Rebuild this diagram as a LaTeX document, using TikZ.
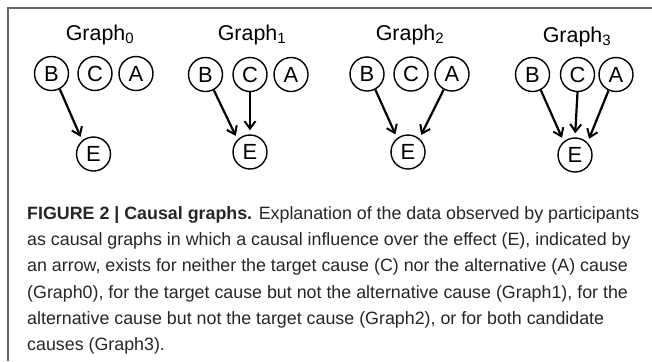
\documentclass[tikz,border=0pt]{standalone}
\usepackage{fontspec}
\setmainfont{Liberation Sans}
\usepackage{tikz}
\usetikzlibrary{arrows.meta}
\tikzstyle{var} = [circle, draw, line width=1.4bp, minimum size=34bp, inner sep=0pt, font=\fontsize{22}{22}\selectfont]
\tikzstyle{cause} = [-{Straight Barb[length=7.5bp,width=11bp,line width=2bp]}, line width=2.2bp, shorten >=4bp]
\tikzstyle{title} = [font=\fontsize{21.5}{21.5}\selectfont]
\tikzstyle{caption} = [anchor=base west, inner sep=0pt, font=\fontsize{17.9}{17.9}\selectfont, text=black!85]

\begin{document}
\begin{tikzpicture}[x=1bp, y=-1bp]
	\useasboundingbox (0,0) rectangle (652,361);
	\draw[line width=1.5bp, black!60] (652,8) -- (8,8) -- (8,361);
	
	\node[title] (t0) at (100,35) {Graph\textsubscript{0}};
	\node[var] (b0) at (51.5,73.5) {B};
	\node[var] (c0) at (95,73.5) {C};
	\node[var] (a0) at (136,73.5) {A};
	\node[var] (e0) at (93.5,154) {E};
	
	\node[title] (t1) at (252,35) {Graph\textsubscript{1}};
	\node[var] (b1) at (205.5,74.5) {B};
	\node[var] (c1) at (250,74.5) {C};
	\node[var] (a1) at (291,74.5) {A};
	\node[var] (e1) at (250,152) {E};
	
	\node[title] (t2) at (410,35) {Graph\textsubscript{2}};
	\node[var] (b2) at (367,74) {B};
	\node[var] (c2) at (411,74) {C};
	\node[var] (a2) at (452,74) {A};
	\node[var] (e2) at (408,152) {E};
	
	\node[title] (t3) at (577,37) {Graph\textsubscript{3}};
	\node[var] (b3) at (532.5,74.5) {B};
	\node[var] (c3) at (577.5,74.5) {C};
	\node[var] (a3) at (616,74.5) {A};
	\node[var] (e3) at (575,155) {E};
	
	\draw[cause] (b0.-62) -- (e0.130);
	\draw[cause] (b1.-62) -- (e1.135);
	\draw[cause] (c1.south) -- (e1.north);
	\draw[cause] (b2.-62) -- (e2.128);
	\draw[cause] (a2.-118) -- (e2.50);
	\draw[cause] (b3.-62) -- (e3.130);
	\draw[cause] (c3.south) -- (e3.north);
	\draw[cause] (a3.-115) -- (e3.45);
	
	\node[caption] (l1) at (27,219) {\textbf{FIGURE 2 | Causal graphs.} Explanation of the data observed by participants};
	\node[caption] (l2) at (27,245) {as causal graphs in which a causal influence over the effect (E), indicated by};
	\node[caption] (l3) at (27,271) {an arrow, exists for neither the target cause (C) nor the alternative (A) cause};
	\node[caption] (l4) at (27,298) {(Graph0), for the target cause but not the alternative cause (Graph1), for the};
	\node[caption] (l5) at (27,324) {alternative cause but not the target cause (Graph2), or for both candidate};
	\node[caption] (l6) at (27,350) {causes (Graph3).};
\end{tikzpicture}
\end{document}
